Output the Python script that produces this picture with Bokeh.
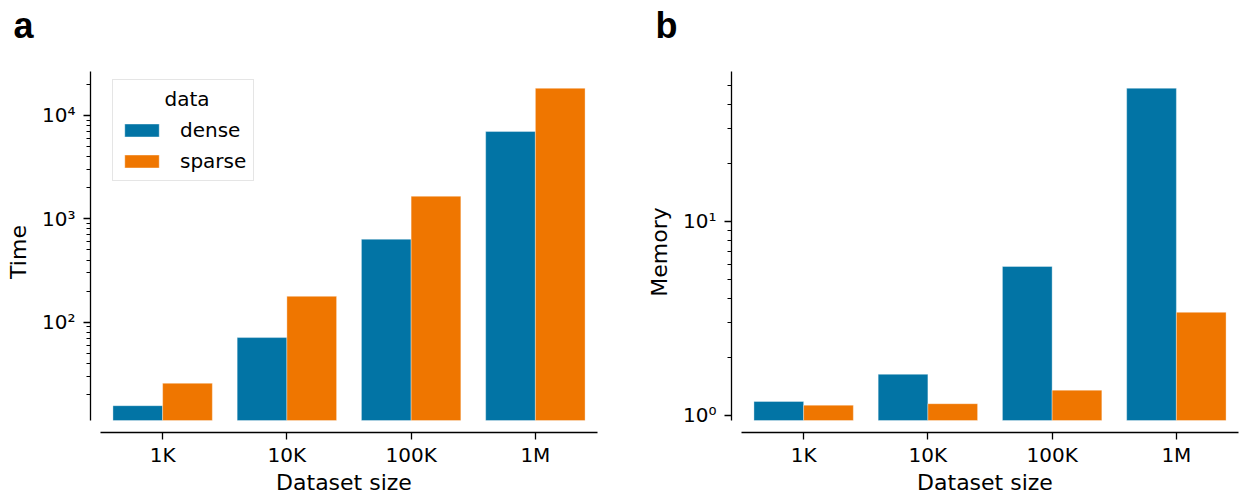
from bokeh.plotting import figure
from bokeh.models import FixedTicker, Legend, LegendItem, Title
from bokeh.layouts import row
from bokeh.transform import dodge
from bokeh.embed import file_html
from bokeh.resources import INLINE

# ---------------- data ----------------
categories = ["1K", "10K", "100K", "1M"]
series = ["dense", "sparse"]
time_dense = [15.6, 71.1, 635, 6986]
time_sparse = [25.7, 178, 1654, 18300]
mem_dense = [1.18, 1.63, 5.86, 48.6]
mem_sparse = [1.13, 1.15, 1.35, 3.40]

time_ticks = [100, 1000, 10000]
time_tick_labels = ["10²", "10³", "10⁴"]
time_minor = [20, 30, 40, 50, 60, 70, 80, 90,
              200, 300, 400, 500, 600, 700, 800, 900,
              2000, 3000, 4000, 5000, 6000, 7000, 8000, 9000, 20000]
mem_ticks = [1, 10]
mem_tick_labels = ["10⁰", "10¹"]
mem_minor = [2, 3, 4, 5, 6, 7, 8, 9, 20, 30, 40, 50]

# axis limits (as in the reference)
time_ylim = (11.2, 26600)
time_view = (8.59, 26600)
mem_ylim = (0.942, 59.3)
mem_view = (0.817, 59.3)

DENSE = "#0274a5"
SPARSE = "#ef7600"
FONT = "DejaVu Sans"
FS = "20px"
LFS = "22px"


def make_panel(values_d, values_s, ylim, yview, ticks, labels, minor,
               ylabel, letter, width, mbl, mbr, letter_x):
    p = figure(width=width, height=498, y_axis_type="log",
               x_range=(-0.5806, 3.5), y_range=yview,
               output_backend="svg", toolbar_location=None,
               min_border_left=mbl, min_border_right=mbr,
               min_border_top=71, min_border_bottom=66)
    p.outline_line_color = None
    p.xgrid.visible = False
    p.ygrid.visible = False
    p.background_fill_color = "white"
    p.border_fill_color = "white"

    idx = list(range(len(categories)))
    src = dict(x=idx, d=values_d, s=values_s)
    r1 = p.vbar(x=dodge("x", -0.2), top="d", bottom=ylim[0], width=0.4,
                source=src, fill_color=DENSE, line_color="white",
                line_alpha=0.35, line_width=1)
    r2 = p.vbar(x=dodge("x", 0.2), top="s", bottom=ylim[0], width=0.4,
                source=src, fill_color=SPARSE, line_color="white",
                line_alpha=0.35, line_width=1)

    xa = p.xaxis[0]
    xa.ticker = FixedTicker(ticks=idx, minor_ticks=[])
    xa.major_label_overrides = {i: c for i, c in zip(idx, categories)}
    xa.bounds = (-0.5, 3.5)
    xa.axis_label = "Dataset size"

    ya = p.yaxis[0]
    ya.ticker = FixedTicker(ticks=ticks, minor_ticks=minor)
    ya.major_label_overrides = {t: l for t, l in zip(ticks, labels)}
    ya.bounds = ylim
    ya.axis_label = ylabel

    for ax in (xa, ya):
        ax.axis_line_color = "black"
        ax.axis_line_width = 1.3
        ax.major_tick_line_color = "black"
        ax.minor_tick_line_color = "black"
        ax.major_tick_line_width = 1.3
        ax.minor_tick_line_width = 1
        ax.major_tick_in = 0
        ax.minor_tick_in = 0
        ax.major_tick_out = 7
        ax.minor_tick_out = 4
        ax.major_label_text_font = FONT
        ax.major_label_text_font_size = FS
        ax.major_label_text_color = "black"
        ax.axis_label_text_font = FONT
        ax.axis_label_text_font_size = LFS
        ax.axis_label_text_font_style = "normal"
        ax.axis_label_text_color = "black"
    xa.major_label_standoff = 3
    xa.axis_label_standoff = 0
    ya.major_label_standoff = 8
    ya.axis_label_standoff = 8

    # spacer between frame and panel letter (keeps the letter near the top)
    spacer = Title(text="\u00a0", text_font_size="1px", standoff=21)
    p.add_layout(spacer, "above")
    t = Title(text=letter, align="left", vertical_align="top",
              offset=letter_x, standoff=0,
              text_font="Liberation Sans", text_font_style="bold",
              text_font_size="36px", text_color="black")
    p.add_layout(t, "above")
    return p, r1, r2


pa, ra1, ra2 = make_panel(time_dense, time_sparse, time_ylim, time_view,
                          time_ticks, time_tick_labels, time_minor,
                          "Time", "a", 620, 90, 23, -77)
pb, rb1, rb2 = make_panel(mem_dense, mem_sparse, mem_ylim, mem_view,
                          mem_ticks, mem_tick_labels, mem_minor,
                          "Memory", "b", 619, 111, 1, -76)

legend = Legend(items=[LegendItem(label=series[0], renderers=[ra1]),
                       LegendItem(label=series[1], renderers=[ra2])],
                location=(22, 251), title="\u00a0" * 7 + "data")
legend.title_text_font = FONT
legend.title_text_font_size = FS
legend.title_text_font_style = "normal"
legend.title_text_color = "black"
legend.title_standoff = 7
legend.label_text_font = FONT
legend.label_text_font_size = FS
legend.label_text_color = "black"
legend.glyph_width = 43
legend.glyph_height = 16
legend.label_standoff = 17
legend.padding = 7
legend.spacing = 7
legend.margin = 0
legend.border_line_color = "#cccccc"
legend.border_line_width = 1.3
legend.background_fill_alpha = 0.8
pa.add_layout(legend)

layout = row(pa, pb)
open("out.html", "w").write(file_html(layout, INLINE))
